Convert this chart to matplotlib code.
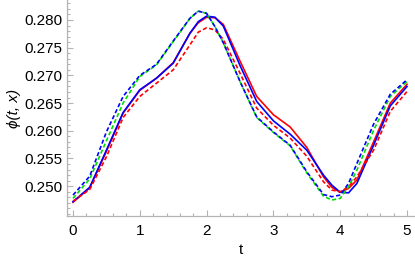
import matplotlib
matplotlib.use("Agg")
import matplotlib.pyplot as plt
from matplotlib.ticker import MultipleLocator, FixedLocator, FormatStrFormatter

plt.rcParams['font.family'] = ['Liberation Sans', 'DejaVu Sans']

# valores
t = [0, 0.25, 0.5, 0.75, 1, 1.25, 1.5, 1.75, 1.875, 2, 2.125, 2.25, 2.5,
     2.75, 3, 3.25, 3.5, 3.75, 3.875, 4, 4.125, 4.25, 4.5, 4.75, 5]

red_solid = [0.2471, 0.2497, 0.2563, 0.2632, 0.2673, 0.2695, 0.2723, 0.2776,
             0.2795, 0.2805, 0.2804, 0.2792, 0.2726, 0.2662, 0.2629, 0.2607,
             0.2570, 0.2517, 0.2498, 0.2489, 0.2496, 0.2511, 0.2580, 0.2650,
             0.2684]
blue_solid = [0.2472, 0.2498, 0.2565, 0.2633, 0.2674, 0.2695, 0.2722, 0.2776,
              0.2797, 0.2807, 0.2805, 0.2789, 0.2718, 0.2653, 0.2618, 0.2594,
              0.2565, 0.2520, 0.2502, 0.2489, 0.2488, 0.2505, 0.2574, 0.2645,
              0.2680]
red_dashed = [0.2473, 0.2494, 0.2553, 0.2624, 0.2662, 0.2686, 0.2710, 0.2755,
              0.2778, 0.2786, 0.2782, 0.2765, 0.2704, 0.2641, 0.2610, 0.2587,
              0.2554, 0.2508, 0.2493, 0.2490, 0.2499, 0.2517, 0.2565, 0.2635,
              0.2671]
green_dashed = [0.2478, 0.2513, 0.2582, 0.2650, 0.2698, 0.2719, 0.2761, 0.2803,
                0.2816, 0.2812, 0.2788, 0.2759, 0.2689, 0.2624, 0.2597, 0.2573,
                0.2524, 0.2482, 0.2475, 0.2478, 0.2499, 0.2529, 0.2601, 0.2662,
                0.2689]
blue_dashed = [0.2484, 0.2518, 0.2598, 0.2662, 0.2700, 0.2720, 0.2762, 0.2803,
               0.2816, 0.2812, 0.2788, 0.2759, 0.2689, 0.2625, 0.2598, 0.2574,
               0.2526, 0.2485, 0.2481, 0.2484, 0.2505, 0.2541, 0.2612, 0.2666,
               0.2692]

y_ticks = [0.250, 0.255, 0.260, 0.265, 0.270, 0.275, 0.280]

fig = plt.figure(figsize=(4.15, 2.6), dpi=100)
ax = fig.add_axes([67/415, 44/260, 348/415, 216/260])

lw = 1.2
dash = (2.5, 1.5)
ax.plot(t, red_solid, color='#ff0000', lw=lw)
ax.plot(t, blue_solid, color='#0000ff', lw=lw)
ax.plot(t, red_dashed, color='#ff0000', lw=lw, dashes=dash)
ax.plot(t, green_dashed, color='#00dd00', lw=lw, dashes=dash)
ax.plot(t, blue_dashed, color='#0000ff', lw=lw, dashes=dash)

ax.set_xlim(-0.09, 5.12)
ax.set_ylim(0.24462, 0.28361)

for s in ['top', 'right']:
    ax.spines[s].set_visible(False)
for s in ['left', 'bottom']:
    ax.spines[s].set_color('#b3b3b3')
    ax.spines[s].set_linewidth(0.9)

ax.xaxis.set_major_locator(MultipleLocator(1))
ax.xaxis.set_minor_locator(MultipleLocator(0.2))
ax.yaxis.set_major_locator(FixedLocator(y_ticks))
ax.yaxis.set_minor_locator(MultipleLocator(0.001))
ax.yaxis.set_major_formatter(FormatStrFormatter('%.3f'))

ax.tick_params(which='both', direction='in', color='#b3b3b3', width=0.8)
ax.tick_params(which='major', length=4, labelsize=11)
ax.tick_params(which='minor', length=2)
ax.tick_params(axis='y', pad=3)
ax.tick_params(axis='x', pad=6)

ax.set_xlabel('t', fontsize=11, labelpad=3)
ax.set_ylabel('ϕ(t, x)', fontsize=11, style='italic', labelpad=3)

fig.savefig('out.png', dpi=100)
